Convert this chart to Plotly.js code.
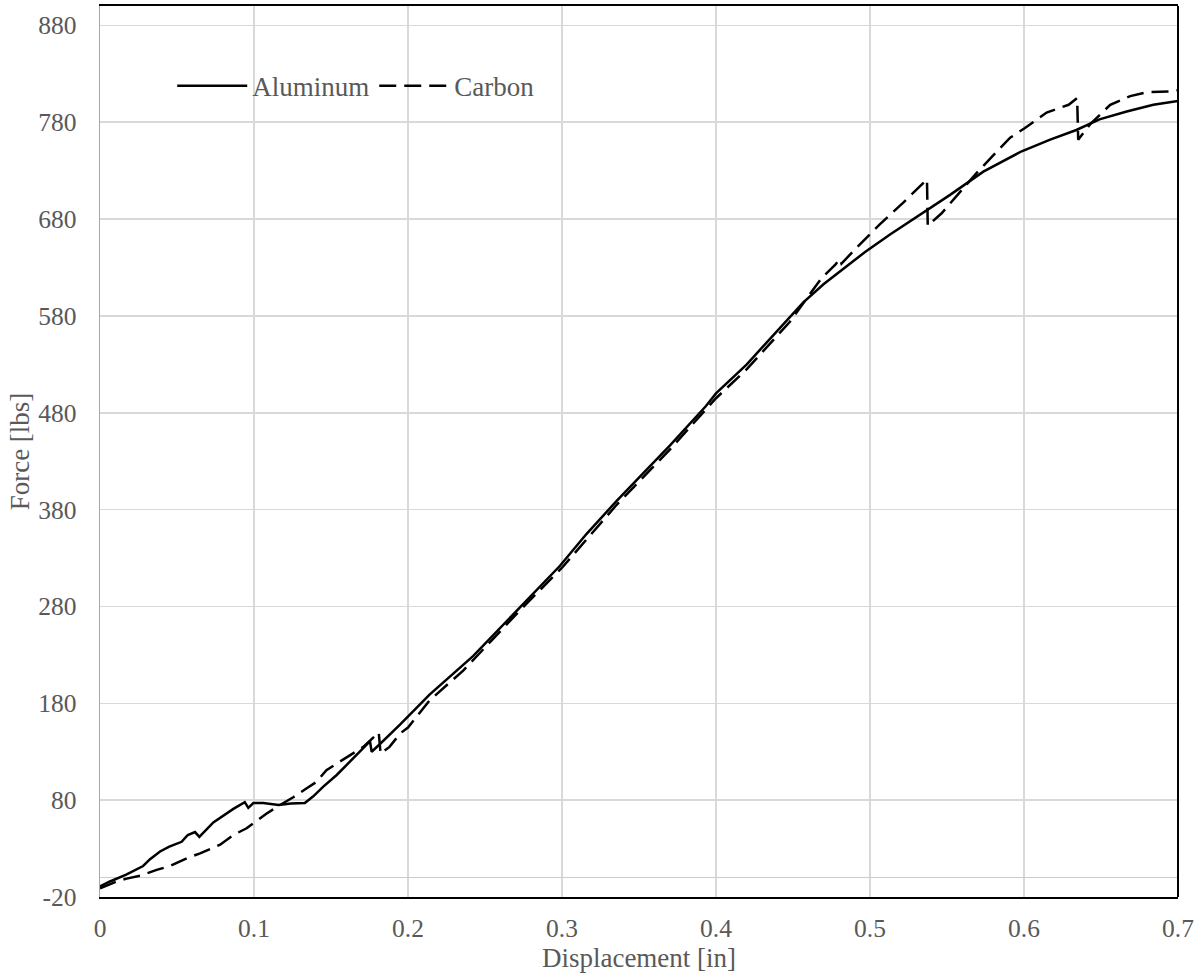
<!DOCTYPE html>
<html>
<head>
<meta charset="utf-8">
<script src="https://cdn.plot.ly/plotly-3.0.1.min.js"></script>
<style>html,body{margin:0;padding:0;background:#fff;}#chart{width:1198px;height:980px;}</style>
</head>
<body>
<div id="chart"></div>
<script>
// Aluminum: displacement [in] and force [lbs]
const aluminumX = [0, 0.0065, 0.017, 0.028, 0.0325, 0.039, 0.045, 0.053, 0.057, 0.0617, 0.0645, 0.0736, 0.0866, 0.094, 0.0963, 0.0996, 0.106, 0.110, 0.116, 0.124, 0.133, 0.1385, 0.145, 0.1537, 0.162, 0.173, 0.1753, 0.1764, 0.1818, 0.1948, 0.214, 0.2424, 0.2727, 0.2987, 0.316, 0.3355, 0.35, 0.37, 0.3935, 0.4, 0.42, 0.448, 0.4567, 0.47, 0.4968, 0.513, 0.531, 0.552, 0.5736, 0.5985, 0.617, 0.634, 0.649, 0.6667, 0.684, 0.7];
const aluminumY = [-9, -4, 3, 12, 19, 27, 32, 37, 44, 47, 42, 57, 71, 78, 72, 77, 77, 76, 75, 76.5, 77, 84, 94, 106, 119, 137, 141, 130, 138, 158, 189, 229, 279, 322, 355, 389, 413, 446, 487, 500, 530, 578, 594, 613, 646, 664, 683, 705, 729, 750, 762, 772, 783, 791, 798, 802];

// Carbon: displacement [in] and force [lbs]
const carbonX = [0, 0.0108, 0.0173, 0.026, 0.0368, 0.0455, 0.0563, 0.065, 0.078, 0.0866, 0.0952, 0.0996, 0.108, 0.1169, 0.1255, 0.134, 0.1407, 0.147, 0.162, 0.171, 0.181, 0.1822, 0.188, 0.195, 0.2, 0.214, 0.236, 0.2727, 0.3, 0.3355, 0.37, 0.4, 0.42, 0.448, 0.463, 0.4686, 0.4775, 0.4805, 0.4815, 0.491, 0.506, 0.5216, 0.537, 0.5375, 0.5465, 0.554, 0.57, 0.591, 0.6006, 0.6147, 0.629, 0.6345, 0.6352, 0.643, 0.656, 0.669, 0.68, 0.697, 0.7];
const carbonY = [-11, -4, -1, 2, 8, 12, 20, 25, 34, 44, 51, 56, 66, 75, 83, 92, 99, 111, 126, 135, 150, 128, 135, 149, 155, 183, 214, 276, 320, 385, 442, 495, 525, 574, 607, 619, 633, 639, 634, 650, 674, 697, 721, 673, 686, 700, 729, 764, 774, 790, 798, 805, 762, 778, 798, 807, 811, 812, 813];

const seriesNames = ["Aluminum", "Carbon"];
const xTitle = "Displacement [in]";
const yTitle = "Force [lbs]";
const xTickVals = [0, 0.1, 0.2, 0.3, 0.4, 0.5, 0.6, 0.7];
const xTickLabels = ["0", "0.1", "0.2", "0.3", "0.4", "0.5", "0.6", "0.7"];
const yTickVals = [-20, 80, 180, 280, 380, 480, 580, 680, 780, 880];
const yTickLabels = ["-20", "80", "180", "280", "380", "480", "580", "680", "780", "880"];

const FONT = "'Liberation Serif', 'Times New Roman', serif";
const GRAY = "#595959";
const TICK_SIZE = 25.5;
const TITLE_SIZE = 27;

const traces = [
  {x: aluminumX, y: aluminumY, name: seriesNames[0], type: "scatter", mode: "lines",
   line: {color: "#000", width: 2.5}},
  {x: carbonX, y: carbonY, name: seriesNames[1], type: "scatter", mode: "lines",
   line: {color: "#000", width: 2.5, dash: "17px,8px"}}
];

const layout = {
  width: 1198, height: 980,
  margin: {l: 100, r: 20, t: 6, b: 83},
  paper_bgcolor: "#fff", plot_bgcolor: "#fff",
  font: {family: FONT, size: TICK_SIZE, color: GRAY},
  showlegend: true,
  legend: {x: 0.067, y: 0.91, xanchor: "left", yanchor: "middle", orientation: "h",
           bgcolor: "rgba(0,0,0,0)", font: {family: FONT, size: TITLE_SIZE, color: GRAY},
           itemwidth: 70, tracegroupgap: 0},
  xaxis: {
    range: [0, 0.7], tickmode: "array", tickvals: xTickVals, ticktext: xTickLabels,
    showgrid: true, gridcolor: "#d9d9d9", gridwidth: 1.5,
    zeroline: false,
    showline: true, linecolor: "#000", linewidth: 2, mirror: true,
    ticks: "outside", ticklen: 7, tickcolor: "rgba(0,0,0,0)",
    tickfont: {family: FONT, size: TICK_SIZE, color: GRAY},
    title: {text: xTitle, font: {family: FONT, size: TITLE_SIZE, color: GRAY}, standoff: 4},
    automargin: false
  },
  yaxis: {
    range: [-20, 900], tickmode: "array", tickvals: yTickVals, ticktext: yTickLabels,
    showgrid: true, gridcolor: "#d9d9d9", gridwidth: 1.5,
    zeroline: true, zerolinecolor: "#cccccc", zerolinewidth: 1.5,
    showline: true, linecolor: "#a6a6a6", linewidth: 1.5, mirror: false,
    ticks: "outside", ticklen: 17, tickcolor: "rgba(0,0,0,0)",
    tickfont: {family: FONT, size: TICK_SIZE, color: GRAY},
    title: {text: yTitle, font: {family: FONT, size: TITLE_SIZE, color: GRAY}, standoff: 0},
    automargin: false
  },
  shapes: [
    {type: "line", xref: "paper", yref: "paper", x0: 1, x1: 1, y0: 0, y1: 1,
     line: {color: "#000", width: 2}}
  ]
};

Plotly.newPlot("chart", traces, layout, {displayModeBar: false, staticPlot: true});
</script>
</body>
</html>
